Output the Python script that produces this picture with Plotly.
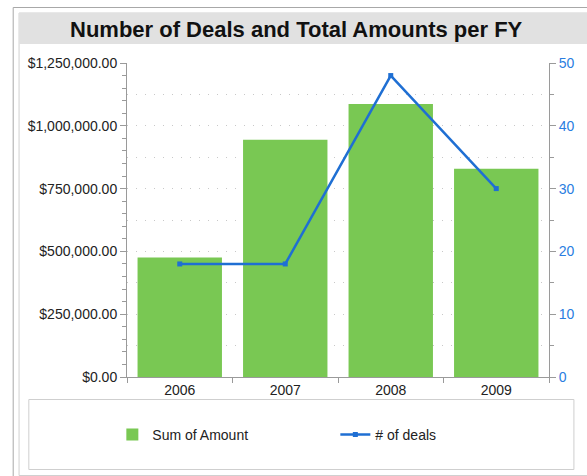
import plotly.graph_objects as go

# Fiscal-year summary
fiscal_years = ["2006", "2007", "2008", "2009"]
sum_of_amount = [476000, 944000, 1087000, 829000]
num_deals = [18, 18, 48, 30]

W, H = 587, 476
L, R, T, B = 127, 28, 63, 99
PW, PH = W - L - R, H - T - B


def px(x):
    return (x - L) / PW


def py(y):
    return (H - B - y) / PH


FONT = "Liberation Sans, Arial, sans-serif"
GREEN = "#79c853"
BLUE = "#1f6fd3"
AXIS = "#9a9a9a"
TEXT = "#222222"

fig = go.Figure()
fig.add_trace(go.Bar(
    x=fiscal_years, y=sum_of_amount, name="Sum of Amount",
    marker=dict(color=GREEN, line=dict(width=0)), yaxis="y",
))
fig.add_trace(go.Scatter(
    x=fiscal_years, y=num_deals, name="# of deals", mode="lines+markers",
    line=dict(color=BLUE, width=2.5), marker=dict(color=BLUE, size=5, symbol="square"),
    yaxis="y2",
))

shapes = [
    # outer frame
    dict(type="rect", xref="paper", yref="paper", x0=px(10.5), x1=px(600), y0=py(490), y1=py(7.5),
         line=dict(color="#a8a8a8", width=1), fillcolor="rgba(0,0,0,0)", layer="below"),
    # inner panel
    dict(type="rect", xref="paper", yref="paper", x0=px(16.5), x1=px(600), y0=py(475.5), y1=py(13),
         line=dict(color="#d0d0d0", width=1), fillcolor="white", layer="below"),
    # title band
    dict(type="rect", xref="paper", yref="paper", x0=px(16.5), x1=px(600), y0=py(44), y1=py(13),
         line=dict(width=0), fillcolor="#e1e1e1", layer="below"),
    # legend box
    dict(type="rect", xref="paper", yref="paper", x0=px(26.5), x1=px(584.5), y0=py(469.5), y1=py(399.5),
         line=dict(color="#cfcfcf", width=1), fillcolor="rgba(0,0,0,0)", layer="below"),
]

fig.update_layout(
    width=W, height=H,
    margin=dict(l=L, r=R, t=T, b=B, pad=0),
    paper_bgcolor="white", plot_bgcolor="rgba(0,0,0,0)",
    font=dict(family=FONT, size=14, color=TEXT),
    bargap=0.2,
    shapes=shapes,
    annotations=[dict(
        text="<b>Number of Deals and Total Amounts per FY</b>",
        xref="paper", yref="paper", x=px(301), y=py(29), xanchor="center", yanchor="middle",
        showarrow=False, font=dict(family=FONT, size=22, color="#111111"),
    )],
    xaxis=dict(
        type="category", showline=True, linecolor=AXIS, linewidth=1,
        ticks="outside", tickson="boundaries", ticklen=5, tickcolor=AXIS,
        showgrid=False, tickfont=dict(size=14, color=TEXT),
    ),
    yaxis=dict(
        range=[0, 1250000], dtick=250000, tickformat="$,.2f",
        showline=True, linecolor=AXIS, linewidth=1,
        ticks="outside", ticklen=6, tickcolor=AXIS,
        minor=dict(dtick=50000, ticks="outside", ticklen=4, tickcolor=AXIS, showgrid=False),
        showgrid=False, zeroline=False, tickfont=dict(size=14, color=TEXT),
    ),
    yaxis2=dict(
        range=[0, 50], dtick=10, overlaying="y", side="right",
        showline=True, linecolor=AXIS, linewidth=1,
        ticks="outside", ticklen=6, tickcolor=AXIS,
        showgrid=False, zeroline=False,
        minor=dict(tickmode="array", tickvals=[5, 10, 15, 20, 25, 30, 35, 40, 45],
                   ticks="outside", ticklen=4, tickcolor=AXIS,
                   showgrid=True, gridcolor="#c8c8c8", gridwidth=1, griddash="1px,8px"),
        tickfont=dict(size=14, color="#2a7de1"),
    ),
    showlegend=True,
    legend=dict(
        orientation="h", x=px(112), xanchor="left", y=py(435), yanchor="middle",
        bgcolor="rgba(0,0,0,0)", borderwidth=0, entrywidth=178, entrywidthmode="pixels",
        font=dict(size=14, color=TEXT), itemwidth=30,
    ),
)

fig.write_html("out.html")
